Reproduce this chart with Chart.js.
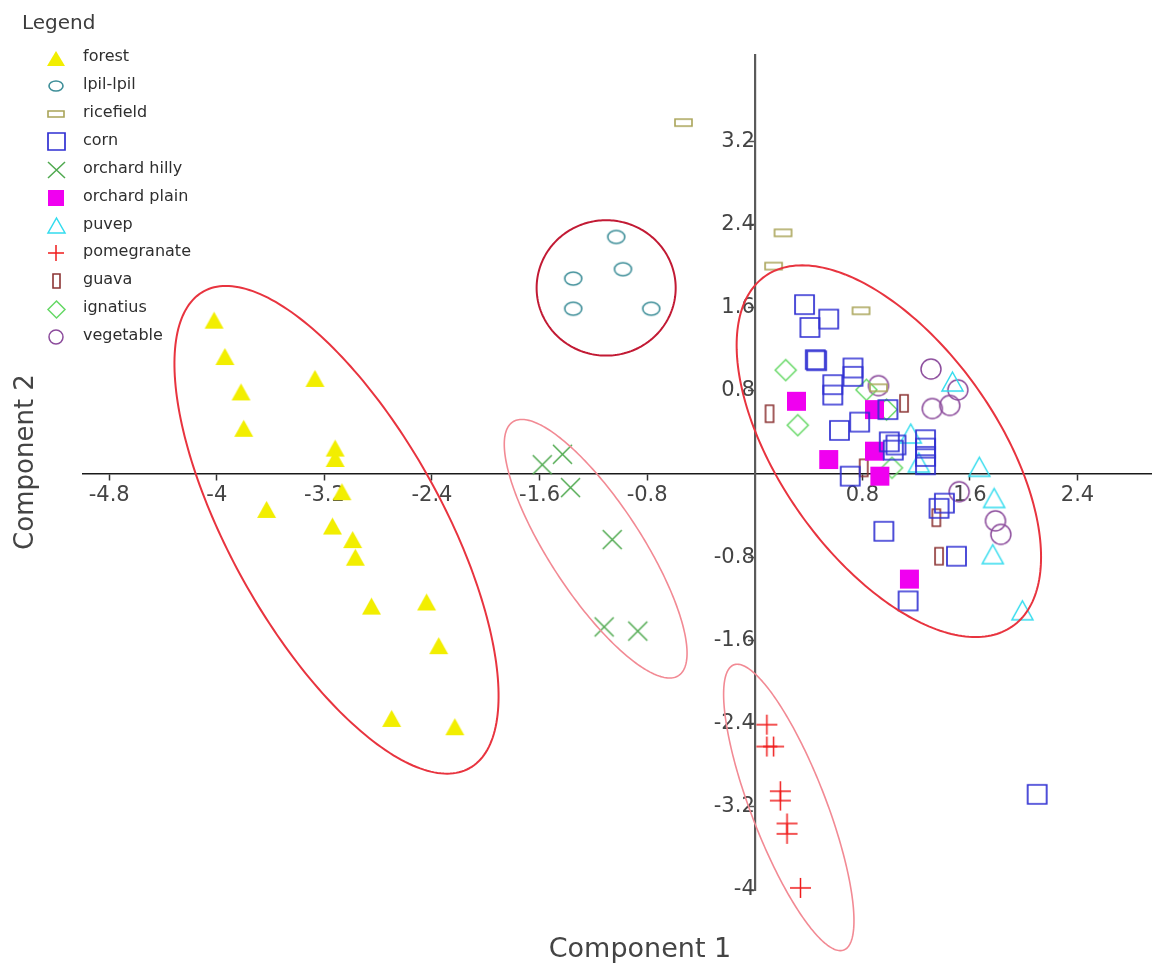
<!DOCTYPE html>
<html>
<head>
<meta charset="utf-8">
<title>Component plot</title>
<script src="https://cdn.jsdelivr.net/npm/chart.js@4/dist/chart.umd.min.js"></script>
<style>
  html, body { margin: 0; padding: 0; background: #ffffff; }
  #wrap { width: 1152px; height: 964px; }
</style>
</head>
<body>
<div id="wrap"><canvas id="plot" width="1152" height="964"></canvas></div>
<script>
// ---- scores on the first two components, one array per land use ----
const seriesNames = ['forest', 'lpil-lpil', 'ricefield', 'corn', 'orchard hilly', 'orchard plain',
                     'puvep', 'pomegranate', 'guava', 'ignatius', 'vegetable'];

const forest = [[-4.02, 1.48], [-3.94, 1.13], [-3.82, 0.79], [-3.80, 0.44], [-3.27, 0.92],
                [-3.12, 0.25], [-3.12, 0.15], [-3.07, -0.17], [-3.63, -0.34], [-3.14, -0.50],
                [-2.99, -0.63], [-2.97, -0.80], [-2.85, -1.27], [-2.44, -1.23], [-2.35, -1.65],
                [-2.70, -2.35], [-2.23, -2.43]];
const lpilLpil = [[-1.03, 2.28], [-0.98, 1.97], [-1.35, 1.88], [-1.35, 1.59], [-0.77, 1.59]];
const ricefield = [[-0.53, 3.38], [0.21, 2.32], [0.14, 2.00], [0.79, 1.57], [0.92, 0.83]];
const corn = [[0.37, 1.63], [0.55, 1.49], [0.41, 1.41], [0.45, 1.10], [0.46, 1.09], [0.73, 1.02],
              [0.73, 0.94], [0.58, 0.86], [0.58, 0.76], [0.99, 0.62], [0.78, 0.50], [0.63, 0.42],
              [1.00, 0.31], [1.05, 0.28], [1.03, 0.23], [1.27, 0.33], [1.27, 0.25], [1.27, 0.17],
              [1.27, 0.09], [0.71, -0.02], [1.37, -0.33], [1.41, -0.28], [0.96, -0.55],
              [1.50, -0.79], [1.14, -1.22], [2.10, -3.08]];
const orchardHilly = [[-1.58, 0.09], [-1.43, 0.19], [-1.37, -0.13], [-1.06, -0.63], [-1.12, -1.47], [-0.87, -1.51]];
const orchardPlain = [[0.31, 0.70], [0.89, 0.62], [0.55, 0.14], [0.89, 0.22], [0.93, -0.02], [1.15, -1.01]];
const puvep = [[1.47, 0.89], [1.16, 0.39], [1.22, 0.11], [1.67, 0.07], [1.78, -0.23], [1.77, -0.77], [1.99, -1.31]];
const pomegranate = [[0.09, -2.41], [0.09, -2.62], [0.14, -2.62], [0.19, -3.05], [0.19, -3.14],
                     [0.24, -3.36], [0.24, -3.46], [0.34, -3.98]];
const guava = [[0.11, 0.58], [1.11, 0.68], [0.81, 0.06], [1.35, -0.42], [1.37, -0.79]];
const ignatius = [[0.23, 1.00], [0.32, 0.47], [0.83, 0.81], [0.98, 0.62], [1.02, 0.06]];
const vegetable = [[1.31, 1.01], [1.51, 0.81], [1.45, 0.66], [1.32, 0.63], [1.52, -0.17],
                   [1.79, -0.45], [1.83, -0.58], [0.92, 0.85]];

const xTicks = [-4.8, -4, -3.2, -2.4, -1.6, -0.8, 0.8, 1.6, 2.4];
const yTicks = [3.2, 2.4, 1.6, 0.8, -0.8, -1.6, -2.4, -3.2, -4];

// ---- marker glyphs ----
function makeMarker(kind, color, w, h, lw) {
  const pad = 2;
  const c = document.createElement('canvas');
  c.width = Math.round(w + pad * 2);
  c.height = Math.round(h + pad * 2);
  const g = c.getContext('2d');
  g.strokeStyle = color;
  g.fillStyle = color;
  g.lineWidth = lw || 1.5;
  const cx = c.width / 2, cy = c.height / 2, hw = w / 2, hh = h / 2;
  g.beginPath();
  let filled = false;
  switch (kind) {
    case 'triFill': filled = true; // falls through
    case 'tri':
      g.moveTo(cx, cy - hh); g.lineTo(cx + hw, cy + hh); g.lineTo(cx - hw, cy + hh); g.closePath();
      break;
    case 'oval':
      g.ellipse(cx, cy, hw, hh, 0, 0, Math.PI * 2);
      break;
    case 'boxFill': filled = true; // falls through
    case 'box':
      g.rect(cx - hw, cy - hh, w, h);
      break;
    case 'diamond':
      g.moveTo(cx, cy - hh); g.lineTo(cx + hw, cy); g.lineTo(cx, cy + hh); g.lineTo(cx - hw, cy); g.closePath();
      break;
    case 'x':
      g.moveTo(cx - hw, cy - hh); g.lineTo(cx + hw, cy + hh);
      g.moveTo(cx + hw, cy - hh); g.lineTo(cx - hw, cy + hh);
      break;
    case 'plus':
      g.moveTo(cx - hw, cy); g.lineTo(cx + hw, cy);
      g.moveTo(cx, cy - hh); g.lineTo(cx, cy + hh);
      break;
    case 'ring':
      g.arc(cx, cy, hw, 0, Math.PI * 2);
      break;
  }
  if (filled) g.fill(); else g.stroke();
  return c;
}

const styles = [
  { color: '#f2ee00', kind: 'triFill', w: 19, h: 17, lw: 1,   lw2: 18, lh2: 15 },
  { color: '#3f8f99', kind: 'oval',    w: 17, h: 13, lw: 1.6, lw2: 14, lh2: 10 },
  { color: '#a9a458', kind: 'box',     w: 17, h: 7,  lw: 1.6, lw2: 16, lh2: 6 },
  { color: '#2f2fd2', kind: 'box',     w: 19, h: 19, lw: 1.7, lw2: 17, lh2: 17 },
  { color: '#4fa94f', kind: 'x',       w: 19, h: 19, lw: 1.5, lw2: 17, lh2: 16 },
  { color: '#f000f0', kind: 'boxFill', w: 19, h: 19, lw: 1,   lw2: 16, lh2: 16 },
  { color: '#33dcee', kind: 'tri',     w: 21, h: 19, lw: 1.5, lw2: 17, lh2: 15 },
  { color: '#f01c1c', kind: 'plus',    w: 21, h: 20, lw: 1.5, lw2: 16, lh2: 16 },
  { color: '#8c3434', kind: 'box',     w: 8,  h: 17, lw: 1.6, lw2: 7,  lh2: 14 },
  { color: '#66d866', kind: 'diamond', w: 21, h: 21, lw: 1.5, lw2: 17, lh2: 17 },
  { color: '#8c4c9c', kind: 'ring',    w: 20, h: 20, lw: 1.5, lw2: 14, lh2: 14 }
];
const plotGlyphs = styles.map(s => makeMarker(s.kind, s.color, s.w, s.h, s.lw));
const keyGlyphs = styles.map(s => makeMarker(s.kind, s.color, s.lw2, s.lh2, s.lw));

const seriesData = [forest, lpilLpil, ricefield, corn, orchardHilly, orchardPlain,
                    puvep, pomegranate, guava, ignatius, vegetable];

// the glyph image sets the drawn size; a tiny radius keeps the layout from reserving overflow room
const datasets = seriesNames.map((name, i) => ({
  label: name,
  data: seriesData[i].map(p => ({ x: p[0], y: p[1] })),
  pointStyle: plotGlyphs[i],
  pointRadius: 0.5,
  pointHoverRadius: 0.5,
  pointBorderWidth: 0,
  showLine: false,
  clip: false
}));

// ---- cluster outlines: centre plus two conjugate half-axes, in component units ----
const clusterOutlines = [
  { c: [-3.11, -0.536], u: [0.988, -2.293], v: [-0.690, -0.492], color: '#e8343f', width: 2 },
  { c: [-1.105, 1.79],  u: [0.517, 0],      v: [0, 0.651],       color: '#c21a34', width: 2 },
  { c: [-1.183, -0.718], u: [0.616, -1.220], v: [-0.287, -0.240], color: '#f28a94', width: 1.6 },
  { c: [0.253, -3.206], u: [0.409, -1.371], v: [-0.260, -0.128], color: '#f28a94', width: 1.6 },
  { c: [0.997, 0.22],   u: [0.918, -1.685], v: [-0.662, -0.596], color: '#e8343f', width: 2 }
];

const outlinePlugin = {
  id: 'clusterOutlines',
  afterDatasetsDraw(chart) {
    const ctx = chart.ctx, xs = chart.scales.x, ys = chart.scales.y;
    ctx.save();
    clusterOutlines.forEach(o => {
      ctx.beginPath();
      const n = 240;
      for (let i = 0; i <= n; i++) {
        const t = (i / n) * Math.PI * 2;
        const vx = o.c[0] + o.u[0] * Math.cos(t) + o.v[0] * Math.sin(t);
        const vy = o.c[1] + o.u[1] * Math.cos(t) + o.v[1] * Math.sin(t);
        const px = xs.getPixelForValue(vx), py = ys.getPixelForValue(vy);
        if (i === 0) ctx.moveTo(px, py); else ctx.lineTo(px, py);
      }
      ctx.closePath();
      ctx.strokeStyle = o.color;
      ctx.lineWidth = o.width;
      ctx.stroke();
    });
    ctx.restore();
  }
};

// ---- legend box and axis titles ----
const FONT = '"DejaVu Sans", "Liberation Sans", Arial, sans-serif';
const decorPlugin = {
  id: 'decor',
  afterDraw(chart) {
    const ctx = chart.ctx;
    ctx.save();
    ctx.fillStyle = '#3c3c3c';
    ctx.textBaseline = 'middle';
    ctx.textAlign = 'left';
    ctx.font = '20px ' + FONT;
    ctx.fillText('Legend', 22, 24);
    ctx.font = '16px ' + FONT;
    chart.data.datasets.forEach((ds, i) => {
      const y = 58 + i * 27.9;
      const g = keyGlyphs[i];
      ctx.drawImage(g, Math.round(56 - g.width / 2), Math.round(y - g.height / 2));
      ctx.fillStyle = '#2e2e2e';
      ctx.fillText(ds.label, 83, y - 1);
    });
    ctx.fillStyle = '#444444';
    ctx.textAlign = 'center';
    ctx.font = '27px ' + FONT;
    ctx.fillText('Component 1', 640, 950);
    ctx.translate(26, 462);
    ctx.rotate(-Math.PI / 2);
    ctx.font = '26px ' + FONT;
    ctx.fillText('Component 2', 0, 0);
    ctx.restore();
  }
};

const tickFont = { family: FONT, size: 21 };

// axes sit on the origin, so their label overhang must not shrink the plotting area
function noOverhang(scale) {
  scale.paddingLeft = 0;
  scale.paddingRight = 0;
  scale.paddingTop = 0;
  scale.paddingBottom = 0;
}

new Chart(document.getElementById('plot'), {
  type: 'scatter',
  data: { datasets },
  plugins: [outlinePlugin, decorPlugin],
  options: {
    responsive: false,
    animation: false,
    events: [],
    layout: { padding: { left: 83, right: 0, top: 55, bottom: 74 } },
    scales: {
      x: {
        type: 'linear',
        min: -4.995,
        max: 2.95,
        position: { y: 0 },
        afterBuildTicks: s => { s.ticks = xTicks.map(v => ({ value: v })); },
        afterFit: noOverhang,
        ticks: {
          font: tickFont, color: '#444444', padding: 3, maxRotation: 0, autoSkip: false,
          callback: v => String(v)
        },
        grid: { display: true, drawOnChartArea: false, drawTicks: true, tickLength: 6, tickColor: '#333333', tickWidth: 1.5 },
        border: { display: true, color: '#1a1a1a', width: 1.5 }
      },
      y: {
        type: 'linear',
        min: -4.0,
        max: 4.03,
        position: { x: 0 },
        afterBuildTicks: s => { s.ticks = yTicks.map(v => ({ value: v })); },
        afterFit: noOverhang,
        ticks: {
          font: tickFont, color: '#444444', padding: 4, autoSkip: false,
          callback: v => String(v)
        },
        grid: { display: true, drawOnChartArea: false, drawTicks: true, tickLength: 6, tickColor: '#555555', tickWidth: 1.5 },
        border: { display: true, color: '#5a5a5a', width: 2.2 }
      }
    },
    plugins: {
      legend: { display: false },
      tooltip: { enabled: false }
    }
  }
});
</script>
</body>
</html>
